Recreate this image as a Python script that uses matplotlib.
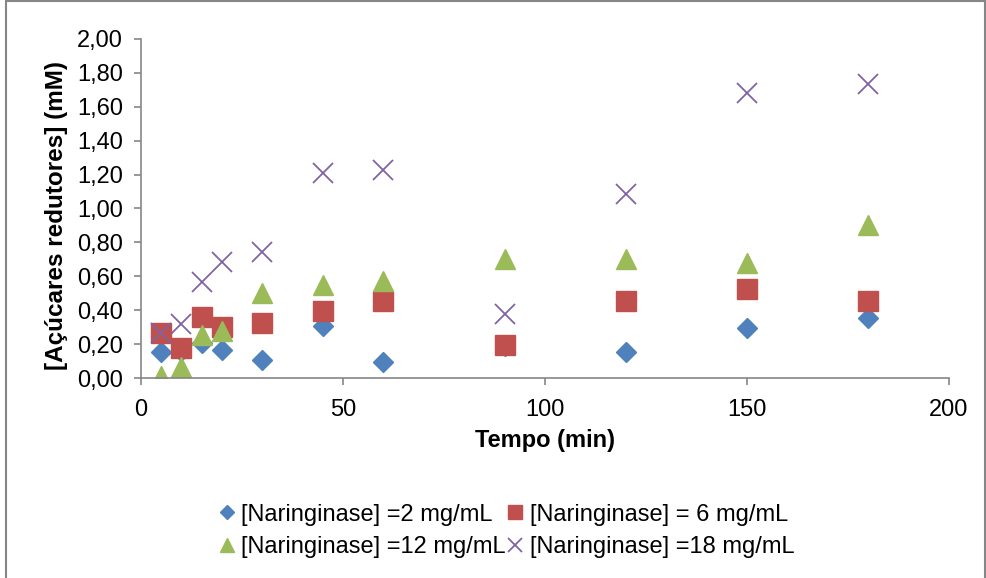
import matplotlib
matplotlib.use("Agg")
import matplotlib.pyplot as plt
from matplotlib.patches import Rectangle
from matplotlib.ticker import FuncFormatter, MultipleLocator

plt.rcParams["font.family"] = ["Liberation Sans", "DejaVu Sans"]

# =====================================================
# Data
# =====================================================

tempo = [5, 10, 15, 20, 30, 45, 60, 90, 120, 150, 180]

nar_2 = [0.155, 0.16, 0.205, 0.165, 0.106, 0.307, 0.096, 0.19, 0.153, 0.297, 0.356]
nar_6 = [0.267, 0.175, 0.362, 0.303, 0.326, 0.395, 0.456, 0.195, 0.456, 0.525, 0.456]
nar_12 = [0.01, 0.067, 0.254, 0.28, 0.50, 0.55, 0.57, 0.70, 0.70, 0.676, 0.90]
nar_18 = [0.263, 0.318, 0.568, 0.682, 0.741, 1.211, 1.227, 0.378, 1.084, 1.683, 1.733]

labels = [
    "[Naringinase] =2 mg/mL",
    "[Naringinase] = 6 mg/mL",
    "[Naringinase] =12 mg/mL",
    "[Naringinase] =18 mg/mL",
]

FS = 17

# =====================================================
# Plot
# =====================================================

fig = plt.figure(figsize=(9.87, 5.78), dpi=100)
ax = fig.add_axes([141 / 987, 1 - 378 / 578, 808 / 987, 339 / 578])

h1, = ax.plot(tempo, nar_2, linestyle="none", marker="D", ms=10.2,
              color="#4F81BD", mec="#4F81BD")
h2, = ax.plot(tempo, nar_6, linestyle="none", marker="s", ms=14.4,
              color="#C0504D", mec="#C0504D")
h3, = ax.plot(tempo, nar_12, linestyle="none", marker="^", ms=15,
              color="#9BBB59", mec="#9BBB59")
h4, = ax.plot(tempo, nar_18, linestyle="none", marker="x", ms=14.4,
              color="#8064A2", mew=1.3)

ax.set_xlim(0, 200)
ax.set_ylim(0, 2.0)
ax.xaxis.set_major_locator(MultipleLocator(50))
ax.yaxis.set_major_locator(MultipleLocator(0.2))
ax.yaxis.set_major_formatter(
    FuncFormatter(lambda v, p: f"{v:.2f}".replace(".", ","))
)

for side in ["top", "right"]:
    ax.spines[side].set_visible(False)
for side in ["left", "bottom"]:
    ax.spines[side].set_color("#868686")
    ax.spines[side].set_linewidth(1.2)

ax.tick_params(
    direction="out",
    length=5,
    width=1.2,
    color="#868686",
    labelsize=FS,
)
ax.tick_params(axis="x", pad=10)
ax.tick_params(axis="y", pad=8)

ax.set_xlabel("Tempo (min)", fontsize=FS, fontweight="bold", va="center")
ax.set_ylabel("[Açúcares redutores] (mM)", fontsize=17.5, fontweight="bold",
              va="center")
ax.xaxis.set_label_coords(0.5, (378 - 441) / 339)
ax.yaxis.set_label_coords((57 - 141) / 808, (378 - 216) / 339)

# legend fills column-wise, so order handles to read row by row
ax.legend(
    [h1, h3, h2, h4], [labels[0], labels[2], labels[1], labels[3]],
    ncol=2, loc="center", bbox_to_anchor=(506 / 987, 1 - 531 / 578),
    bbox_transform=fig.transFigure,
    frameon=False, fontsize=FS, handletextpad=0.2, columnspacing=0.0,
    handlelength=0.8, markerscale=0.65, labelspacing=0.45,
)

fig.add_artist(Rectangle(
    (6 / 987, -0.01), 979 / 987, 1.01 - 1 / 578,
    transform=fig.transFigure, fill=False,
    edgecolor="#868686", linewidth=1.5,
))

fig.savefig("out.png", dpi=100)
